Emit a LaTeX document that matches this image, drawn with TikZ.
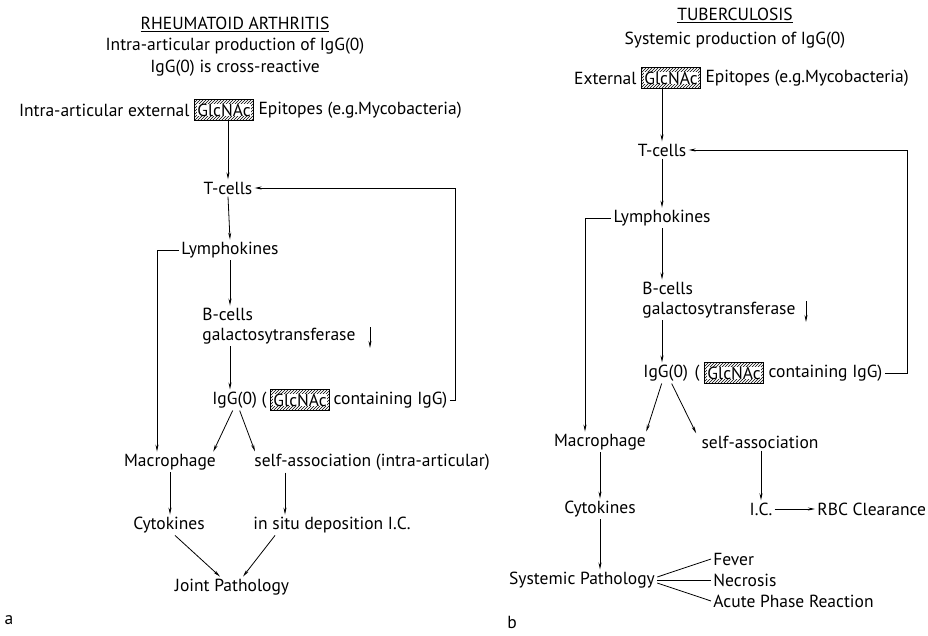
\documentclass[tikz,border=0pt]{standalone}
\usepackage{fontspec}
\setmainfont{PT Sans}
\usetikzlibrary{arrows.meta,positioning,patterns,calc}

\tikzset{
  txt/.style={inner sep=2pt, font=\fontsize{17.5}{20}\selectfont},
  hatchbox/.style={txt, draw, inner xsep=3pt, inner ysep=4pt,
    path picture={
      \fill[pattern=north east lines] (path picture bounding box.south west) rectangle (path picture bounding box.north east);
      \fill[white] ([shift={(2.5pt,4pt)}]path picture bounding box.south west) rectangle ([shift={(-2.5pt,-4pt)}]path picture bounding box.north east);
    }},
}

\begin{document}
\begin{tikzpicture}[x=1pt, y=-1pt, line width=0.8pt, >={Stealth[length=7pt,width=3pt]}]
  \useasboundingbox (0,0) rectangle (928,636);

  % a: rheumatoid arthritis
  \node[txt] (titA) at (235,24) {\underline{RHEUMATOID ARTHRITIS}};
  \node[txt] (subA) at (235,46) {Intra-articular production of IgG(0)};
  \node[txt] (crA)  at (235,68) {IgG(0) is cross-reactive};
  \node[hatchbox] (glcA) at (224,110) {GlcNAc};
  \node[txt,left=2pt of glcA]  (exA) {Intra-articular external};
  \node[txt,right=2pt of glcA] (epA) {Epitopes (e.g.Mycobacteria)};
  \node[txt] (TcA) at (228,188) {T-cells};
  \node[txt] (lyA) at (230,250) {Lymphokines};
  \node[txt,anchor=west,align=left] (bcA) at (200,326) {B-cells\\galactosytransferase};
  \node[txt,anchor=west] (igA) at (210,400) {IgG(0)};
  \node[txt,right=0pt of igA]  (igpA) {(};
  \node[hatchbox,right=1pt of igpA] (glcB) {GlcNAc};
  \node[txt,right=1pt of glcB] (coA) {containing IgG)};
  \node[txt] (maA) at (170,462) {Macrophage};
  \node[txt,anchor=west] (saA) at (252,462) {self-association (intra-articular)};
  \node[txt] (cyA) at (169,525) {Cytokines};
  \node[txt] (isA) at (332,525) {in situ deposition I.C.};
  \node[txt] (jpA) at (232,587) {Joint Pathology};
  \node[txt] (labA) at (9,620) {a};
  \coordinate (brA) at (157,250);
  \coordinate (fbA) at (455,400);
  \coordinate (dnA) at (370,327);

  \draw[->] (TcA.north |- glcA.south) -- (TcA.north);
  \draw[->] (TcA.south) -- (lyA.north);
  \draw[->] (lyA.south) -- (lyA.south |- bcA.north);
  \draw[->] (lyA.south |- bcA.south) -- (lyA.south |- igA.north);
  \draw[->] (dnA) -- ++(0,21);
  \draw[->] (coA.east) -- (fbA) |- (TcA.east);
  \draw[->] (lyA.west) -- (brA) -- (brA |- maA.north);
  \draw[->] ([xshift=-2pt]igA.south) -- ([xshift=-5pt]maA.north east);
  \draw[->] ([xshift=5pt]igA.south) -- ([xshift=3pt]saA.north west);
  \draw[->] (maA.south) -- (maA.south |- cyA.north);
  \draw[->] ($(saA.south west)+(33,0)$) -- ($(saA.south west |- isA.north)+(33,0)$);
  \draw[->] ([xshift=6pt]cyA.south) -- ([xshift=-12pt]jpA.north);
  \draw[->] ($(isA.south west)+(24,0)$) -- ([xshift=11pt]jpA.north);

  % b: tuberculosis
  \node[txt] (titB) at (735,15) {\underline{TUBERCULOSIS}};
  \node[txt] (subB) at (735,40) {Systemic production of IgG(0)};
  \node[hatchbox] (glcC) at (671,78) {GlcNAc};
  \node[txt,left=2pt of glcC]  (exB) {External};
  \node[txt,right=2pt of glcC] (epB) {Epitopes (e.g.Mycobacteria)};
  \node[txt] (TcB) at (662,150) {T-cells};
  \node[txt] (lyB) at (662,218) {Lymphokines};
  \node[txt,anchor=west,align=left] (bcB) at (640,300) {B-cells\\galactosytransferase};
  \node[txt,anchor=west] (igB) at (641,373) {IgG(0)};
  \node[txt,right=2pt of igB]  (igpB) {(};
  \node[hatchbox,right=2pt of igpB] (glcD) {GlcNAc};
  \node[txt,right=2pt of glcD] (coB) {containing IgG)};
  \node[txt] (maB) at (600,442) {Macrophage};
  \node[txt] (saB) at (760,442) {self-association};
  \node[txt] (cyB) at (600,509) {Cytokines};
  \node[txt] (icB) at (761,509) {I.C.};
  \node[txt,anchor=west] (rbB) at (815,509) {RBC Clearance};
  \node[txt] (spB) at (582,580) {Systemic Pathology};
  \node[txt,anchor=west] (feB) at (711,559) {Fever};
  \node[txt,anchor=west] (neB) at (711,580) {Necrosis};
  \node[txt,anchor=west] (acB) at (711,601) {Acute Phase Reaction};
  \node[txt] (labB) at (512,622) {b};
  \coordinate (brB) at (585,218);
  \coordinate (fbB) at (907,373);
  \coordinate (dnB) at (806,301);

  \draw[->] (TcB.north |- glcC.south) -- (TcB.north);
  \draw[->] (TcB.south) -- (lyB.north);
  \draw[->] (lyB.south) -- (lyB.south |- bcB.north);
  \draw[->] (lyB.south |- bcB.south) -- (lyB.south |- igB.north);
  \draw[->] (dnB) -- ++(0,21);
  \draw[->] (coB.east) -- (fbB) |- (TcB.east);
  \draw[->] (lyB.west) -- (brB) -- (brB |- maB.north);
  \draw[->] ([xshift=-4pt]igB.south) -- ([xshift=-2pt]maB.north east);
  \draw[->] ([xshift=6pt]igB.south) -- ([xshift=-3pt]saB.north west);
  \draw[->] (maB.south) -- (maB.south |- cyB.north);
  \draw[->] (icB.north |- saB.south) -- (icB.north);
  \draw[->] (icB.east) -- (rbB.west);
  \draw[->] (cyB.south) -- (cyB.south |- spB.north);
  \draw ([yshift=3pt]spB.east) -- (feB.west);
  \draw (spB.east) -- (neB.west);
  \draw ([yshift=-3pt]spB.east) -- (acB.west);

\end{tikzpicture}
\end{document}
